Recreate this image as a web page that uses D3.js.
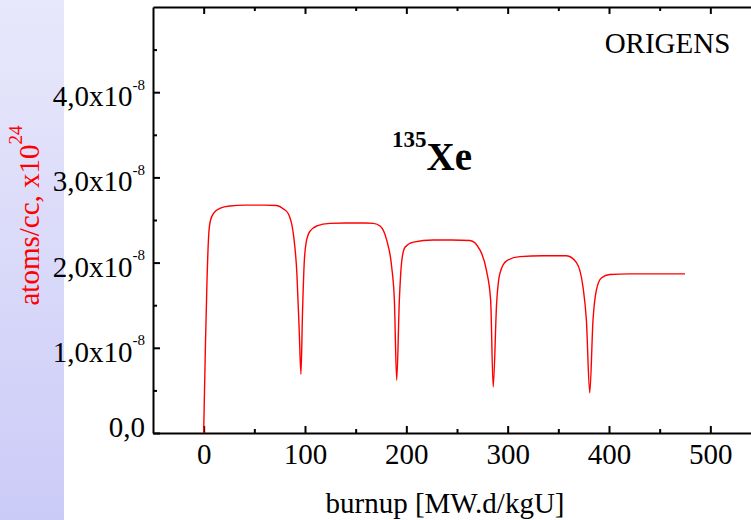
<!DOCTYPE html>
<html>
<head>
<meta charset="utf-8">
<script src="https://cdn.jsdelivr.net/npm/d3@7"></script>
<style>
  html, body { margin: 0; padding: 0; background: #fff; }
  svg { display: block; }
  text { font-family: "Liberation Serif", "Times New Roman", serif; }
</style>
</head>
<body>
<svg id="chart" width="751" height="520"></svg>
<script>
// ---- data ----
const burnup = [
  0, 1.7, 3.3, 4.9, 6.6, 9.9, 16.5, 26, 40, 60, 72, 78.8, 83.7, 88.7, 92, 94.3, 96,
  97.5, 99.2, 101.2, 105, 111.7, 124.8, 140, 160, 167.5, 174.1, 180.7, 185.6, 188.2, 190.5,
  193.1, 195.5, 198.7, 206.9, 226.6, 245, 262.8, 272.6, 279.2, 283.2, 285.7,
  289.1, 292.3, 298.9, 312, 335, 358, 367.9, 374.4, 377.7, 381,
  384.2, 387.6, 392.5, 400.7, 420, 450, 475
];
// Xe-135 concentration, in units of 1e-8 (atoms/cc x 1e24)
const xe135 = [
  0, 1.01, 1.79, 2.31, 2.49, 2.58, 2.64, 2.665, 2.675, 2.675, 2.67, 2.63, 2.57, 2.32, 1.87, 1.2, 0.69,
  1.4, 1.99, 2.24, 2.37, 2.43, 2.46, 2.465, 2.465, 2.46, 2.43, 2.26, 1.945, 1.556, 0.62,
  1.556, 2.02, 2.18, 2.24, 2.265, 2.265, 2.26, 2.15, 1.9, 1.56, 0.54,
  1.52, 1.87, 2.02, 2.07, 2.08, 2.08, 2.0, 1.71, 1.32, 0.47,
  1.32, 1.68, 1.82, 1.86, 1.868, 1.868, 1.868
];
const xMajorTicks = [0, 100, 200, 300, 400, 500];
const xMinorTicks = [50, 150, 250, 350, 450, 550];
const yMajorTicks = [0, 1, 2, 3, 4];
const yMinorTicks = [0.5, 1.5, 2.5, 3.5, 4.5];
const yTickLabels = ["0,0", "1,0x10", "2,0x10", "3,0x10", "4,0x10"];
const yTickExp = ["", "-8", "-8", "-8", "-8"];

// ---- layout ----
const svg = d3.select("#chart");
const pL = 153, pR = 761, pT = 7, pB = 433;
const FS = 29;
const x = d3.scaleLinear().domain([-50, 550]).range([pL, pR]);
const y = d3.scaleLinear().domain([0, 5]).range([pB, pT]);

// background strip
const defs = svg.append("defs");
const grad = defs.append("linearGradient").attr("id", "strip")
  .attr("x1", 0).attr("y1", 0).attr("x2", 0).attr("y2", 1);
grad.append("stop").attr("offset", "0%").attr("stop-color", "#e8e8fb");
grad.append("stop").attr("offset", "100%").attr("stop-color", "#cbcbf8");
svg.append("rect").attr("x", 0).attr("y", 0).attr("width", 64).attr("height", 520)
  .attr("fill", "url(#strip)");

// axes
function styleAxis(g) {
  g.select(".domain").attr("stroke", "#000").attr("stroke-width", 2);
  g.selectAll(".tick line").attr("stroke", "#000").attr("stroke-width", 2);
}
// bottom major with labels
const gB = svg.append("g").attr("transform", `translate(0,${pB})`)
  .call(d3.axisBottom(x).tickValues(xMajorTicks).tickSize(-7).tickSizeOuter(0)
    .tickPadding(10.5).tickFormat(d3.format("d")));
styleAxis(gB);
gB.selectAll(".tick text").attr("font-size", FS).attr("fill", "#000")
  .style("font-family", '"Liberation Serif", "Times New Roman", serif');
svg.append("g").attr("transform", `translate(0,${pB})`)
  .call(d3.axisBottom(x).tickValues(xMinorTicks).tickSize(-4).tickSizeOuter(0).tickFormat(""))
  .call(styleAxis).select(".domain").remove();
// top mirror
const gT = svg.append("g").attr("transform", `translate(0,${pT})`)
  .call(d3.axisTop(x).tickValues(xMajorTicks).tickSize(-7).tickSizeOuter(0).tickFormat(""));
styleAxis(gT);
svg.append("g").attr("transform", `translate(0,${pT})`)
  .call(d3.axisTop(x).tickValues(xMinorTicks).tickSize(-4).tickSizeOuter(0).tickFormat(""))
  .call(styleAxis).select(".domain").remove();
// left
const gL = svg.append("g").attr("transform", `translate(${pL},0)`)
  .call(d3.axisLeft(y).tickValues(yMajorTicks).tickSize(-7).tickSizeOuter(0).tickFormat(""));
styleAxis(gL);
svg.append("g").attr("transform", `translate(${pL},0)`)
  .call(d3.axisLeft(y).tickValues(yMinorTicks).tickSize(-4).tickSizeOuter(0).tickFormat(""))
  .call(styleAxis).select(".domain").remove();

// y tick labels with superscripts
yMajorTicks.forEach((v, i) => {
  const t = svg.append("text")
    .attr("x", 145)
    .attr("y", y(v) + (yTickExp[i] ? 14 : 4))
    .attr("text-anchor", "end")
    .attr("font-size", FS).attr("fill", "#000");
  t.append("tspan").text(yTickLabels[i]);
  if (yTickExp[i]) {
    t.append("tspan").attr("dy", -16.5).attr("font-size", 15).text(yTickExp[i]);
  }
});

// curve
const line = d3.line()
  .x((d, i) => x(burnup[i]))
  .y((d, i) => y(xe135[i]))
  .curve(d3.curveMonotoneX);
svg.append("path").datum(xe135)
  .attr("d", line)
  .attr("fill", "none")
  .attr("stroke", "#ff0000")
  .attr("stroke-width", 1.4);

// axis titles
svg.append("text")
  .attr("x", 445).attr("y", 513)
  .attr("text-anchor", "middle").attr("font-size", FS).attr("fill", "#000")
  .text("burnup [MW.d/kgU]");

const yt = svg.append("text")
  .attr("transform", "translate(39,215.5) rotate(-90)")
  .attr("text-anchor", "middle").attr("font-size", FS).attr("fill", "#ff0000");
yt.append("tspan").text("atoms/cc, x10");
yt.append("tspan").attr("dy", -17).attr("font-size", 19).text("24");

// annotations
svg.append("text")
  .attr("x", 667.5).attr("y", 53)
  .attr("text-anchor", "middle").attr("font-size", FS).attr("fill", "#000")
  .text("ORIGENS");

const iso = svg.append("text")
  .attr("x", 392).attr("y", 170)
  .attr("font-weight", "bold").attr("fill", "#000");
iso.append("tspan").attr("font-size", 23).attr("dy", -23).text("135");
iso.append("tspan").attr("font-size", 39).attr("dy", 23).text("Xe");
</script>
</body>
</html>
